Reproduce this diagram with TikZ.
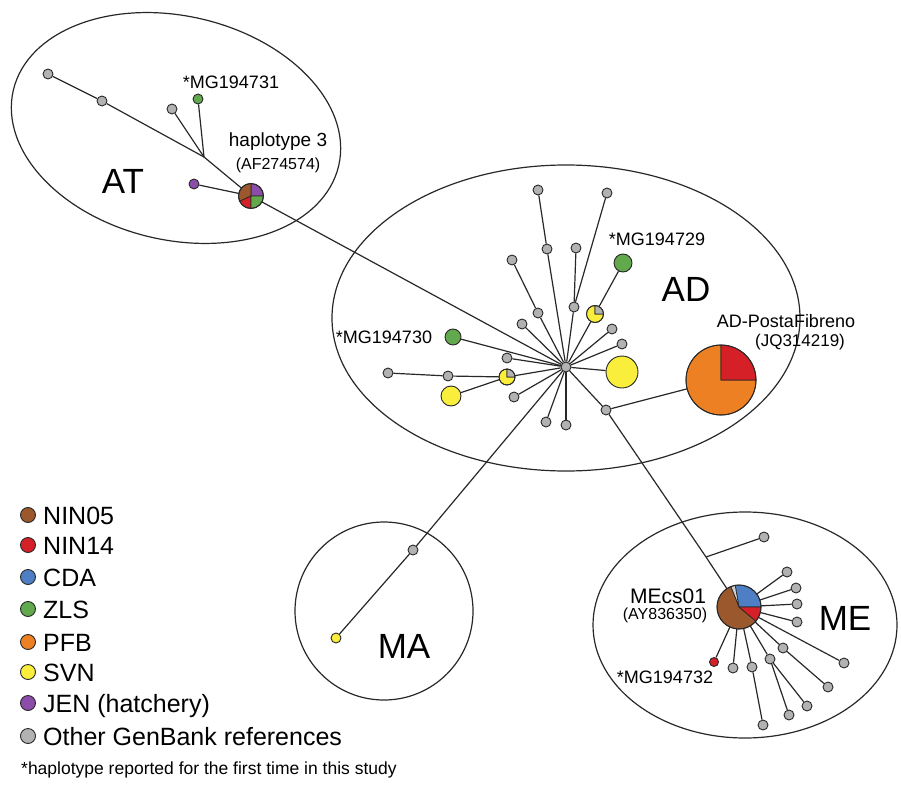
\documentclass[tikz,border=0pt]{standalone}
\usepackage{fontspec}
\setmainfont{Liberation Sans}
\definecolor{nin05}{RGB}{155,88,45}
\definecolor{nin14}{RGB}{212,32,38}
\definecolor{cda}{RGB}{78,126,196}
\definecolor{zls}{RGB}{98,168,76}
\definecolor{pfb}{RGB}{236,128,34}
\definecolor{svn}{RGB}{250,238,60}
\definecolor{jen}{RGB}{140,76,170}
\definecolor{refgray}{RGB}{178,178,178}
\definecolor{edgec}{RGB}{40,40,40}
\tikzset{
  hap/.style={circle, draw=edgec, line width=0.9pt, inner sep=0pt, minimum size=#1},
  hap/.default=10pt,
  gb/.style={hap=#1, fill=refgray},
  gb/.default=10pt,
  piehap/.style={circle, inner sep=0pt, minimum size=#1},
  link/.style={draw=edgec, line width=1.2pt},
  zone/.style={draw=edgec, line width=1.2pt},
  lab/.style={inner sep=0pt, font=\fontsize{18}{21}\selectfont},
  sublab/.style={inner sep=0pt, font=\fontsize{16}{19}\selectfont},
  region/.style={inner sep=0pt, font=\fontsize{35}{40}\selectfont},
  legtxt/.style={inner sep=0pt, anchor=base west, font=\fontsize{25}{29}\selectfont},
}
% one sector of a pie haplotype
\newcommand{\pieslice}[5]{\filldraw[fill=#5, draw=edgec, line width=0.7pt] (#1.center) -- ++(#2:#4) arc[start angle=#2, end angle=#3, radius=#4] -- cycle;}

\begin{document}
\begin{tikzpicture}[x=1pt,y=1pt]
\useasboundingbox (0,0) rectangle (901,-786);
% Groups:
\draw[zone, rotate around={-13:(176,-128)}] (176,-128) ellipse [x radius=167, y radius=112];
\draw[zone] (566,-318) ellipse [x radius=234, y radius=153];
\draw[zone] (384,-611) circle [radius=89];
\draw[zone] (745,-625) ellipse [x radius=152, y radius=113];
\node (lblAT) [region] at (123,-181) {AT};
\node (lblAD) [region] at (686,-289) {AD};
\node (lblMA) [region] at (404,-646) {MA};
\node (lblME) [region] at (845,-618) {ME};

% AT haplotypes:
\node (at1) [gb] at (48,-74) {};
\node (at2) [gb] at (102,-101) {};
\node (at3) [gb] at (172,-109) {};
\node (mg731) [hap, fill=zls] at (198,-99) {};
\node (jen1) [hap, fill=jen] at (194,-184) {};
\coordinate (atj) at (204,-157);
\node (hap3) [piehap=25pt] at (251,-196) {};
\pieslice{hap3}{0}{90}{12.5pt}{jen}
\pieslice{hap3}{90}{205}{12.5pt}{nin05}
\pieslice{hap3}{205}{270}{12.5pt}{nin14}
\pieslice{hap3}{270}{360}{12.5pt}{zls}
\draw[edgec, line width=1pt] (hap3.center) circle [radius=12.5pt];
\node (lbl731) [lab] at (231,-82) {*MG194731};
\node (lblhap3) [lab, font=\fontsize{19}{22}\selectfont] at (278,-142) {haplotype 3};
\node (lblaf) [sublab] at (278,-165) {(AF274574)};

% AD haplotypes:
\node (hub) [gb] at (566,-367) {};
\node (ad1) [gb] at (538,-190) {};
\node (ad2) [gb] at (547,-249) {};
\node (ad3) [gb] at (607,-193) {};
\node (ad4) [gb] at (576,-248) {};
\node (ad5) [gb] at (574,-307) {};
\node (ad6) [gb] at (512,-260) {};
\node (ad7) [gb] at (538,-313) {};
\node (ad8) [gb] at (522,-324) {};
\node (mg729) [hap=18pt, fill=zls] at (623,-263) {};
\node (svnA) [piehap=17pt] at (595,-314) {};
\pieslice{svnA}{90}{360}{8.5pt}{svn}
\pieslice{svnA}{0}{90}{8.5pt}{refgray}
\draw[edgec, line width=0.9pt] (svnA.center) circle [radius=8.5pt];
\node (ad9) [gb] at (612,-329) {};
\node (ad10) [gb] at (622,-344) {};
\node (svnB) [hap=32pt, fill=svn] at (622,-372) {};
\node (mg730) [hap=16pt, fill=zls] at (453,-337) {};
\node (ad11) [gb] at (507,-358) {};
\node (ad12) [gb] at (388,-373) {};
\node (ad13) [gb] at (448,-376) {};
\node (svnC) [piehap=16pt] at (507,-377) {};
\pieslice{svnC}{90}{360}{8pt}{svn}
\pieslice{svnC}{0}{90}{8pt}{refgray}
\draw[edgec, line width=0.9pt] (svnC.center) circle [radius=8pt];
\node (svnD) [hap=20pt, fill=svn] at (451,-396) {};
\node (ad14) [gb] at (514,-397) {};
\node (ad15) [gb] at (546,-422) {};
\node (ad16) [gb] at (566,-425) {};
\node (ad17) [gb] at (606,-410) {};
\node (pfbhap) [piehap=70pt] at (721,-380) {};
\pieslice{pfbhap}{90}{360}{35pt}{pfb}
\pieslice{pfbhap}{0}{90}{35pt}{nin14}
\draw[edgec, line width=1pt] (pfbhap.center) circle [radius=35pt];
\node (lbl729) [lab] at (657,-239) {*MG194729};
\node (lbl730) [lab] at (384,-337) {*MG194730};
\node (lblpf) [lab] at (786,-321) {AD-PostaFibreno};
\node (lbljq) [sublab, font=\fontsize{17}{20}\selectfont] at (800,-342) {(JQ314219)};

% MA haplotypes:
\node (ma1) [gb] at (413,-550) {};
\node (ma2) [hap, fill=svn] at (336,-638) {};

% ME haplotypes:
\node (mepie) [piehap=44pt] at (739,-607) {};
\pieslice{mepie}{0}{100}{22pt}{cda}
\pieslice{mepie}{100}{112}{22pt}{refgray!60}
\pieslice{mepie}{112}{320}{22pt}{nin05}
\pieslice{mepie}{320}{360}{22pt}{nin14}
\draw[edgec, line width=1pt] (mepie.center) circle [radius=22pt];
\coordinate (mej) at (706,-557);
\node (me1) [gb] at (764,-537) {};
\node (me2) [gb] at (787,-572) {};
\node (me3) [gb] at (796,-588) {};
\node (me4) [gb] at (797,-604) {};
\node (me5) [gb] at (797,-622) {};
\node (me6) [gb] at (844,-663) {};
\node (me7) [gb] at (783,-648) {};
\node (me8) [gb] at (828,-687) {};
\node (me9) [gb] at (770,-659) {};
\node (me10) [gb] at (789,-715) {};
\node (me11) [gb] at (807,-706) {};
\node (me12) [gb] at (752,-667) {};
\node (me13) [gb] at (763,-725) {};
\node (me14) [gb] at (733,-668) {};
\node (mg732) [hap=9pt, fill=nin14] at (714,-662) {};
\node (lblMEcs) [lab, font=\fontsize{21}{24}\selectfont] at (668,-596) {MEcs01};
\node (lblAY) [sublab] at (665,-615) {(AY836350)};
\node (lbl732) [lab] at (665,-677) {*MG194732};

% Links:
\draw[link] (at1) -- (at2) -- (atj) -- (hap3);
\draw[link] (at3) -- (atj);
\draw[link] (mg731) -- (atj);
\draw[link] (jen1) -- (hap3);
\draw[link] (hap3) -- (hub);
\draw[link] (ad1) -- (ad2) -- (hub);
\draw[link] (ad3) -- (ad5);
\draw[link] (ad4) -- (ad5) -- (hub);
\draw[link] (ad6) -- (ad7) -- (hub);
\draw[link] (ad8) -- (hub);
\draw[link] (mg729) -- (svnA) -- (hub);
\draw[link] (ad9) -- (hub);
\draw[link] (ad10) -- (hub);
\draw[link] (svnB) -- (hub);
\draw[link] (mg730) -- (hub);
\draw[link] (ad11) -- (hub);
\draw[link] (ad12) -- (ad13) -- (svnC) -- (hub);
\draw[link] (svnD) -- (svnC);
\draw[link] (ad14) -- (hub);
\draw[link] (ad15) -- (hub);
\draw[link] (ad16) -- (hub);
\draw[link] (hub) -- (ad17) -- (pfbhap);
\draw[link] (hub) -- (ma1) -- (ma2);
\draw[link] (ad17) -- (mej) -- (mepie);
\draw[link] (mej) -- (me1);
\draw[link] (mepie) -- (me2);
\draw[link] (mepie) -- (me3);
\draw[link] (mepie) -- (me4);
\draw[link] (mepie) -- (me5);
\draw[link] (mepie) -- (me6);
\draw[link] (mepie) -- (me7) -- (me8);
\draw[link] (mepie) -- (me9) -- (me10);
\draw[link] (me9) -- (me11);
\draw[link] (mepie) -- (me12) -- (me13);
\draw[link] (mepie) -- (me14);
\draw[link] (mepie) -- (mg732);

% Legend:
\node (lg1) [hap=15pt, fill=nin05] at (28,-515) {};
\node (lg2) [hap=15pt, fill=nin14] at (28,-545) {};
\node (lg3) [hap=15pt, fill=cda] at (28,-577) {};
\node (lg4) [hap=15pt, fill=zls] at (28,-609) {};
\node (lg5) [hap=15pt, fill=pfb] at (28,-642) {};
\node (lg6) [hap=15pt, fill=svn] at (28,-672) {};
\node (lg7) [hap=15pt, fill=jen] at (28,-703) {};
\node (lg8) [gb=15pt] at (28,-736) {};
\node (lt1) [legtxt] at (43,-524) {NIN05};
\node (lt2) [legtxt] at (43,-554) {NIN14};
\node (lt3) [legtxt] at (43,-586) {CDA};
\node (lt4) [legtxt] at (43,-618) {ZLS};
\node (lt5) [legtxt] at (43,-651) {PFB};
\node (lt6) [legtxt] at (43,-681) {SVN};
\node (lt7) [legtxt] at (43,-712) {JEN (hatchery)};
\node (lt8) [legtxt] at (43,-745) {Other GenBank references};
\node (note) [inner sep=0pt, anchor=base west, font=\fontsize{17.5}{20}\selectfont] at (21,-774) {*haplotype reported for the first time in this study};
\end{tikzpicture}
\end{document}
